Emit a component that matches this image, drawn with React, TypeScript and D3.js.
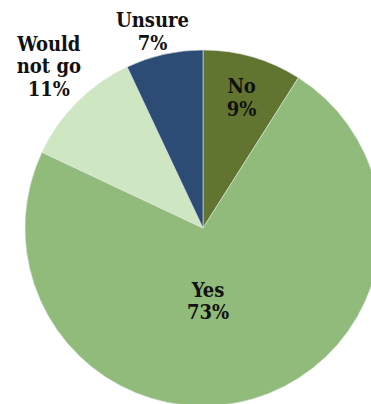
import React from "react";
import * as d3 from "d3";

const categories = ["No", "Yes", "Would not go", "Unsure"];
const values = [9, 73, 11, 7];
const labelLines = [["No", "9%"], ["Yes", "73%"], ["Would", "not go", "11%"], ["Unsure", "7%"]];
const colors = ["#617531", "#91bb7a", "#cfe6c3", "#2c4c75"];
// label placement: [radius, angle in degrees clockwise from north]
const labelPlacement: [number, number][] = [[136, 16.5], [73, 176], [223.5, 316.4], [203, 345.6]];

const W = 371, H = 404;
const cx = 203, cy = 228, R = 178;

export default function App() {
  const pie = d3.pie<number>().sort(null).value((d) => d);
  const arcs = pie(values);
  const arc = d3.arc<d3.PieArcDatum<number>>().innerRadius(0).outerRadius(R);
  const lineH = 22.5;
  return (
    <svg width={W} height={H} style={{ position: "absolute", left: 0, top: 0 }}>
      <rect width={W} height={H} fill="#fff" />
      <g transform={`translate(${cx},${cy})`}>
        {arcs.map((a, i) => (
          <path key={categories[i]} d={arc(a) || ""} fill={colors[i]} stroke="#dfe6e0" strokeWidth={0.6} />
        ))}
        {labelLines.map((lines, i) => {
          const [r, deg] = labelPlacement[i];
          const t = (deg * Math.PI) / 180;
          const x = r * Math.sin(t);
          const y = -r * Math.cos(t);
          const y0 = y - ((lines.length - 1) * lineH) / 2;
          return (
            <text key={i} textAnchor="middle" fill="#111"
              style={{ fontFamily: '"DejaVu Serif Condensed", "DejaVu Serif", serif', fontStretch: "condensed", fontWeight: 700, fontSize: "20px" }}>
              {lines.map((l, j) => (
                <tspan key={j} x={x} y={y0 + j * lineH} dy="0.35em">{l}</tspan>
              ))}
            </text>
          );
        })}
      </g>
    </svg>
  );
}
